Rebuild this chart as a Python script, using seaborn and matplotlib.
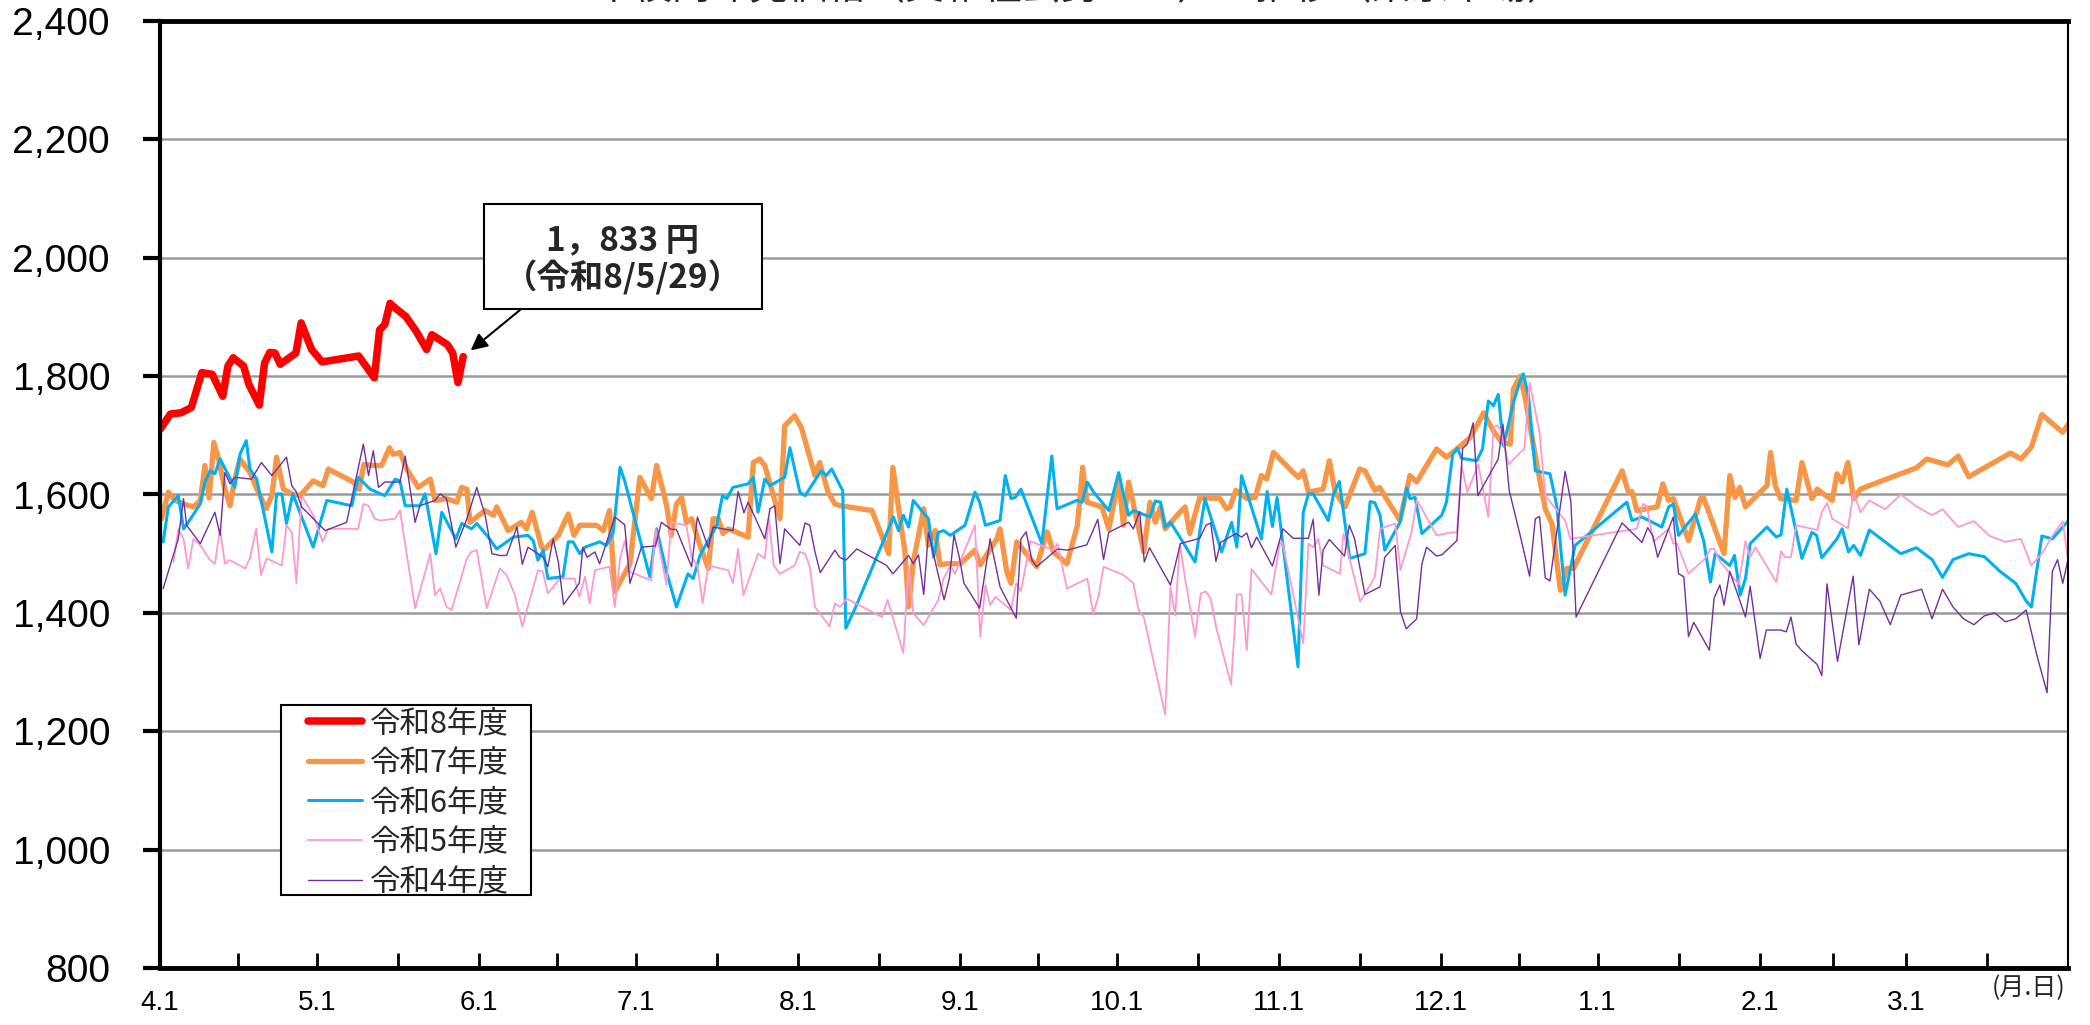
import matplotlib
matplotlib.use("Agg")
import matplotlib.pyplot as plt
from matplotlib.patches import Rectangle
from matplotlib.ticker import FuncFormatter
import pandas as pd
import seaborn as sns

# (day of fiscal year from 4/1, price in yen)
r8 = [(0, 1710), (2, 1736), (4, 1738), (6, 1747), (8, 1806), (10, 1803), (12, 1766), (13, 1817),
      (14, 1831), (16, 1817), (17, 1786), (19, 1751), (20, 1822), (21, 1840), (22, 1839), (23, 1820),
      (26, 1839), (27, 1890), (29, 1845), (31, 1824), (38, 1834), (41, 1797), (42, 1878), (43, 1887),
      (44, 1923), (45, 1915), (47, 1901), (49, 1876), (51, 1845), (52, 1870), (55, 1853), (56, 1839),
      (57, 1789), (58, 1833)]

r7 = [(0.3, 1559), (1.6, 1604), (2.9, 1590), (4.5, 1584), (6.4, 1579), (7.7, 1590), (8.6, 1649),
      (9.4, 1594), (10.3, 1688), (11.2, 1660), (12.4, 1609), (13.4, 1581), (14.3, 1626), (15.3, 1660),
      (17.2, 1637), (18.8, 1604), (20.3, 1576), (21.4, 1598), (22.3, 1663), (23.6, 1609), (25.2, 1601),
      (26.8, 1598), (29.3, 1623), (31.2, 1615), (32.2, 1643), (37.0, 1621), (38.1, 1609), (39.0, 1651),
      (40.8, 1649), (42.4, 1649), (43.9, 1679), (44.6, 1668), (45.9, 1671), (47.2, 1643), (49.4, 1612),
      (51.7, 1626), (52.6, 1590), (54.8, 1593), (56.8, 1587), (57.7, 1612), (58.7, 1609), (59.3, 1553),
      (62.2, 1573), (63.8, 1565), (64.4, 1579), (66.6, 1539), (69.1, 1553), (70.1, 1542), (71.2, 1570),
      (73.0, 1511), (73.6, 1508), (76.2, 1531), (78.1, 1567), (79.2, 1531), (80.3, 1548), (83.5, 1548),
      (84.8, 1539), (86.0, 1573), (87.0, 1436), (89.9, 1483), (91.8, 1629), (94.0, 1593), (95.0, 1649),
      (96.9, 1582), (97.8, 1531), (98.8, 1584), (99.8, 1595), (100.7, 1553), (101.7, 1559), (103.3, 1514),
      (104.9, 1475), (105.8, 1559), (106.8, 1559), (107.7, 1534), (108.7, 1542), (112.5, 1528),
      (113.5, 1654), (114.7, 1660), (115.7, 1649), (118.6, 1559), (119.5, 1716), (121.4, 1733),
      (122.7, 1713), (125.3, 1632), (126.2, 1654), (127.8, 1604), (129.1, 1584), (130.1, 1581),
      (136.2, 1573), (139.4, 1500), (140.2, 1646), (141.3, 1576), (142.5, 1503), (143.2, 1410),
      (144.1, 1486), (146.1, 1576), (147.0, 1514), (148.3, 1539), (149.2, 1481), (150.5, 1483),
      (153.1, 1483), (155.9, 1506), (156.9, 1481), (158.5, 1503), (160.1, 1525), (160.7, 1542),
      (162.0, 1469), (162.8, 1450), (163.9, 1520), (167.7, 1478), (169.7, 1537), (170.9, 1503),
      (173.5, 1483), (174.8, 1525), (175.5, 1548), (176.5, 1646), (177.3, 1587), (180.2, 1579),
      (181.5, 1542), (183.4, 1626), (184.3, 1548), (185.3, 1621), (186.2, 1584), (188.2, 1503),
      (189.4, 1587), (190.4, 1553), (191.4, 1579), (192.3, 1542), (195.1, 1570), (196.1, 1579),
      (197.0, 1534), (198.9, 1595), (202.8, 1593), (204.0, 1576), (204.7, 1579), (205.8, 1607),
      (207.9, 1593), (209.5, 1595), (210.7, 1632), (211.7, 1626), (213.0, 1671), (216.8, 1637),
      (217.8, 1629), (218.7, 1640), (219.7, 1604), (222.5, 1609), (223.7, 1657), (224.8, 1604),
      (226.7, 1579), (229.5, 1643), (230.5, 1640), (232.4, 1607), (233.3, 1612), (237.2, 1556),
      (239.1, 1632), (240.4, 1621), (244.2, 1677), (246.1, 1663), (247.7, 1674), (250.6, 1696),
      (251.9, 1716), (253.2, 1738), (255.1, 1707), (256.7, 1688), (258.3, 1685), (258.9, 1778),
      (260.2, 1800), (261.2, 1761), (263.1, 1665), (265.0, 1576), (266.3, 1550), (267.9, 1438),
      (269.1, 1475), (270.4, 1475), (279.7, 1640), (280.9, 1604), (281.6, 1605), (282.5, 1573),
      (286.4, 1579), (287.5, 1618), (288.6, 1590), (289.5, 1593), (292.4, 1522), (294.7, 1593),
      (295.3, 1594), (299.2, 1500), (300.3, 1632), (301.3, 1595), (302.2, 1612), (303.3, 1579),
      (307.4, 1615), (308.1, 1671), (309.0, 1615), (310.0, 1593), (313.0, 1590), (314.1, 1654),
      (316.0, 1593), (317.0, 1609), (319.9, 1590), (320.8, 1635), (321.8, 1621), (322.9, 1654),
      (324.0, 1593), (325.3, 1609), (327, 1615), (330, 1625), (333, 1635), (336, 1645), (338, 1660),
      (340, 1655), (342, 1650), (344, 1665), (346, 1630), (348, 1640), (351, 1655), (354, 1670),
      (356, 1660), (358, 1680), (360, 1735), (362, 1720), (364, 1705), (365, 1718)]

r6 = [(0.6, 1520), (1.6, 1579), (3.5, 1598), (4.5, 1542), (5.4, 1553), (7.7, 1584), (8.6, 1621),
      (9.6, 1640), (10.5, 1635), (11.5, 1660), (14.3, 1612), (15.3, 1668), (16.5, 1691), (17.2, 1643),
      (18.5, 1626), (21.4, 1503), (22.3, 1601), (23.3, 1601), (24.2, 1551), (25.4, 1601), (29.3, 1511),
      (31.9, 1590), (36.7, 1581), (37.9, 1629), (40.2, 1609), (43.0, 1598), (45.0, 1626), (45.9, 1623),
      (46.9, 1581), (49.7, 1581), (50.7, 1601), (52.8, 1500), (53.9, 1570), (56.6, 1525), (57.7, 1551),
      (59.6, 1542), (60.6, 1551), (62.8, 1528), (64.4, 1508), (67.6, 1528), (70.4, 1531), (71.4, 1522),
      (72.3, 1489), (73.3, 1506), (74.2, 1458), (77.1, 1461), (78.1, 1520), (79.0, 1520), (80.3, 1500),
      (81.3, 1511), (84.1, 1520), (85.4, 1514), (86.7, 1536), (88.0, 1646), (88.9, 1623), (93.7, 1461),
      (95.0, 1542), (96.9, 1469), (98.8, 1410), (101.0, 1466), (102.0, 1458), (103.3, 1497),
      (106.5, 1548), (107.6, 1598), (108.4, 1593), (109.6, 1612), (112.5, 1618), (113.5, 1629),
      (114.4, 1570), (115.7, 1626), (116.7, 1615), (119.5, 1629), (120.5, 1679), (122.4, 1604),
      (123.4, 1598), (126.5, 1640), (127.4, 1632), (128.5, 1643), (130.1, 1615), (130.6, 1607),
      (131.2, 1374), (133.0, 1408), (140.3, 1562), (141.3, 1539), (142.2, 1565), (143.2, 1545),
      (144.1, 1590), (147.0, 1559), (148.0, 1494), (148.9, 1536), (149.9, 1539), (151.2, 1531),
      (154.0, 1548), (155.9, 1604), (156.8, 1587), (157.9, 1548), (160.7, 1556), (161.7, 1632),
      (162.8, 1593), (163.6, 1595), (164.7, 1609), (168.7, 1517), (170.6, 1665), (171.6, 1576),
      (175.4, 1590), (176.4, 1587), (177.4, 1621), (178.6, 1604), (181.5, 1573), (183.4, 1637),
      (184.3, 1601), (185.3, 1565), (186.2, 1573), (189.4, 1562), (190.4, 1589), (191.4, 1587),
      (192.3, 1545), (193.3, 1553), (195.1, 1528), (198.0, 1486), (199.9, 1593), (203.1, 1503),
      (205.0, 1553), (206.0, 1511), (206.9, 1632), (210.7, 1525), (211.8, 1605), (212.8, 1546),
      (213.7, 1595), (217.7, 1309), (218.7, 1570), (219.7, 1601), (220.6, 1601), (223.5, 1556),
      (224.5, 1601), (225.6, 1622), (227.6, 1492), (230.5, 1500), (231.5, 1588), (232.4, 1586),
      (233.4, 1565), (234.3, 1506), (237.2, 1553), (238.5, 1611), (239.1, 1593), (240.1, 1595),
      (241.4, 1534), (245.2, 1565), (246.1, 1587), (247.3, 1668), (248.2, 1678), (249.0, 1661),
      (251.9, 1657), (253.0, 1677), (254.1, 1758), (255.1, 1750), (256.0, 1769), (257.0, 1682),
      (258.9, 1755), (260.2, 1792), (260.8, 1804), (261.8, 1766), (263.1, 1640), (265.9, 1635),
      (267.2, 1581), (268.8, 1430), (270.7, 1514), (280.6, 1587), (281.6, 1556), (283.5, 1562),
      (287.3, 1545), (288.6, 1579), (289.5, 1584), (290.5, 1531), (293.7, 1567), (295.3, 1522),
      (296.6, 1452), (297.5, 1500), (300.3, 1480), (301.2, 1497), (302.3, 1430), (303.3, 1458),
      (304.2, 1517), (307.4, 1545), (309.2, 1528), (310.1, 1532), (311.2, 1609), (312.8, 1545),
      (314.1, 1492), (316.0, 1536), (316.9, 1531), (317.9, 1493), (320.8, 1525), (321.8, 1542),
      (323.0, 1503), (324.0, 1514), (325.3, 1497), (327, 1540), (330, 1520), (333, 1500), (336, 1510),
      (339, 1490), (341, 1460), (343, 1490), (346, 1500), (349, 1495), (352, 1470), (355, 1450),
      (357, 1420), (358, 1410), (360, 1530), (362, 1525), (365, 1555)]

r5 = [(2.6, 1486), (3.5, 1542), (4.5, 1525), (5.4, 1475), (6.4, 1525), (7.7, 1514), (9.6, 1489),
      (10.5, 1483), (11.5, 1542), (12.4, 1483), (13.4, 1489), (16.3, 1475), (17.2, 1492), (18.4, 1542),
      (19.3, 1464), (20.4, 1492), (23.3, 1480), (24.2, 1548), (25.2, 1536), (26.1, 1450), (27.1, 1598),
      (29.3, 1565), (31.1, 1520), (32.2, 1542), (37.9, 1542), (38.9, 1584), (39.9, 1581), (41.1, 1559),
      (42.1, 1556), (45.0, 1559), (45.9, 1573), (48.8, 1408), (51.7, 1500), (52.6, 1430), (53.6, 1441),
      (54.8, 1410), (55.8, 1405), (58.7, 1492), (59.6, 1503), (60.6, 1506), (62.5, 1408), (65.0, 1475),
      (66.3, 1464), (67.9, 1430), (69.3, 1377), (72.3, 1472), (73.2, 1470), (74.2, 1433), (76.5, 1458),
      (79.3, 1458), (80.2, 1427), (81.3, 1461), (82.2, 1416), (83.2, 1472), (86.0, 1478), (87.0, 1410),
      (88.0, 1492), (88.9, 1522), (89.9, 1469), (94.0, 1455), (94.8, 1542), (96.9, 1447), (97.8, 1553),
      (100.7, 1548), (101.7, 1494), (102.8, 1480), (103.8, 1416), (104.9, 1480), (108.7, 1472),
      (109.6, 1450), (110.6, 1508), (111.6, 1430), (114.4, 1500), (115.7, 1492), (116.5, 1559),
      (117.4, 1480), (118.6, 1466), (121.4, 1480), (122.4, 1503), (123.4, 1500), (124.3, 1478),
      (125.3, 1410), (128.1, 1377), (129.1, 1416), (130.1, 1410), (131.4, 1424), (138.1, 1393),
      (139.2, 1422), (142.2, 1332), (143.2, 1480), (144.1, 1399), (146.1, 1379), (148.9, 1422),
      (149.9, 1458), (151.2, 1480), (152.1, 1466), (155.9, 1548), (156.9, 1360), (157.9, 1447),
      (158.8, 1413), (159.8, 1427), (162.8, 1405), (163.8, 1450), (164.7, 1437), (166.5, 1521),
      (170.9, 1506), (171.7, 1517), (173.5, 1441), (177.4, 1458), (178.5, 1399), (179.5, 1427),
      (180.5, 1478), (184.3, 1464), (186.2, 1450), (187.2, 1405), (188.2, 1393), (192.3, 1228),
      (193.3, 1444), (194.2, 1396), (195.1, 1517), (196.1, 1458), (198.0, 1360), (199.1, 1433),
      (200.1, 1436), (201.0, 1424), (202.0, 1377), (204.9, 1279), (206.0, 1431), (206.9, 1431),
      (207.9, 1337), (208.8, 1474), (212.6, 1431), (214.2, 1517), (214.7, 1520), (218.7, 1349),
      (219.7, 1517), (220.6, 1511), (221.6, 1525), (222.5, 1480), (225.7, 1466), (226.4, 1534),
      (229.6, 1419), (232.4, 1461), (233.4, 1542), (236.3, 1551), (237.3, 1472), (239.4, 1536),
      (240.4, 1590), (241.2, 1579), (244.2, 1531), (247.1, 1536), (248.1, 1536), (249.0, 1649),
      (250.1, 1604), (252.2, 1651), (254.1, 1562), (255.1, 1713), (255.7, 1717), (256.4, 1710),
      (258.0, 1651), (260.2, 1671), (261.0, 1677), (262.0, 1789), (263.9, 1705), (265.0, 1598),
      (268.8, 1556), (269.8, 1525), (282.5, 1542), (283.7, 1584), (284.4, 1581), (285.7, 1520),
      (288.6, 1542), (289.5, 1517), (290.2, 1517), (292.4, 1466), (295.6, 1492), (296.6, 1508),
      (297.3, 1508), (298.5, 1486), (300.1, 1469), (302.0, 1448), (303.3, 1521), (304.2, 1494),
      (305.2, 1511), (309.2, 1452), (310.1, 1504), (310.9, 1494), (312.0, 1494), (313.0, 1548),
      (317.0, 1540), (317.9, 1570), (318.9, 1586), (319.9, 1559), (322.9, 1543), (324.0, 1604),
      (325.3, 1570), (327, 1590), (330, 1575), (333, 1600), (336, 1580), (339, 1565), (341, 1575),
      (344, 1545), (347, 1555), (350, 1530), (353, 1520), (356, 1525), (358, 1480), (360, 1500),
      (362, 1530), (364, 1555), (365, 1490)]

r4 = [(0.6, 1441), (3.5, 1525), (4.5, 1593), (5.1, 1548), (7.7, 1517), (10.5, 1570), (11.5, 1531),
      (12.4, 1637), (13.4, 1618), (14.3, 1629), (17.5, 1626), (19.4, 1654), (21.4, 1632), (24.2, 1663),
      (25.2, 1615), (26.1, 1604), (27.1, 1579), (31.6, 1539), (35.7, 1553), (38.9, 1685), (39.9, 1632),
      (40.8, 1674), (41.8, 1612), (43.0, 1621), (45.9, 1621), (46.9, 1665), (48.8, 1553), (49.7, 1581),
      (52.6, 1590), (53.6, 1601), (54.8, 1593), (56.6, 1511), (58.7, 1559), (60.6, 1612), (62.2, 1565),
      (63.5, 1500), (65.0, 1497), (66.3, 1497), (68.3, 1545), (69.3, 1482), (70.4, 1511), (73.3, 1494),
      (74.2, 1478), (75.2, 1525), (76.2, 1486), (77.2, 1414), (80.2, 1450), (80.9, 1511), (81.7, 1494),
      (83.2, 1503), (84.1, 1483), (87.0, 1562), (88.9, 1549), (89.9, 1450), (92.1, 1511), (94.8, 1513),
      (95.9, 1553), (97.8, 1541), (98.8, 1541), (101.7, 1478), (102.8, 1562), (104.9, 1510),
      (105.8, 1545), (109.6, 1539), (110.6, 1605), (111.7, 1569), (112.5, 1587), (115.7, 1525),
      (116.7, 1576), (117.6, 1581), (118.6, 1483), (119.5, 1542), (122.4, 1514), (123.4, 1552),
      (124.3, 1548), (125.3, 1503), (126.3, 1468), (129.1, 1506), (130.0, 1494), (131.2, 1489),
      (133.3, 1508), (139.0, 1480), (140.2, 1466), (143.2, 1497), (144.1, 1483), (145.1, 1498),
      (146.1, 1431), (147.0, 1536), (150.0, 1422), (151.0, 1458), (151.9, 1532), (152.9, 1494),
      (153.8, 1450), (156.8, 1408), (158.8, 1525), (160.7, 1444), (163.8, 1391), (164.7, 1525),
      (165.7, 1537), (166.8, 1489), (167.7, 1478), (171.7, 1508), (173.6, 1506), (177.3, 1515),
      (179.4, 1558), (180.5, 1490), (181.5, 1536), (185.3, 1553), (186.2, 1542), (187.4, 1571),
      (188.3, 1486), (189.3, 1510), (193.3, 1447), (195.2, 1517), (198.9, 1526), (200.1, 1548),
      (201.0, 1552), (202.0, 1487), (202.9, 1519), (205.8, 1534), (206.9, 1528), (207.9, 1535),
      (208.8, 1510), (209.8, 1528), (212.8, 1479), (214.8, 1542), (216.8, 1526), (219.7, 1526),
      (220.6, 1558), (221.7, 1430), (222.5, 1506), (223.7, 1524), (226.6, 1496), (227.5, 1548),
      (228.5, 1526), (230.5, 1431), (233.4, 1444), (234.3, 1494), (236.3, 1514), (237.3, 1402),
      (238.4, 1373), (240.4, 1390), (241.4, 1483), (242.3, 1511), (244.2, 1496), (245.2, 1498),
      (248.1, 1522), (249.2, 1678), (250.1, 1685), (251.2, 1721), (252.1, 1598), (256.0, 1660),
      (256.9, 1719), (258.1, 1607), (260.2, 1531), (262.0, 1462), (263.1, 1559), (263.9, 1563),
      (265.0, 1459), (265.9, 1454), (268.8, 1639), (269.9, 1588), (270.9, 1393), (279.7, 1552),
      (283.5, 1519), (284.6, 1544), (285.6, 1530), (286.5, 1494), (289.5, 1562), (290.5, 1466),
      (291.5, 1461), (292.4, 1360), (293.4, 1384), (296.4, 1337), (297.3, 1425), (298.4, 1447),
      (299.2, 1413), (300.3, 1470), (303.3, 1393), (304.2, 1445), (306.1, 1323), (307.3, 1371),
      (310.0, 1371), (311.1, 1368), (312.0, 1393), (313.0, 1347), (314.1, 1336), (317.0, 1313),
      (317.9, 1294), (318.9, 1449), (320.9, 1318), (323.9, 1462), (325.0, 1346), (327, 1440),
      (329, 1420), (331, 1380), (333, 1430), (335, 1435), (337, 1440), (339, 1390), (341, 1440),
      (343, 1410), (345, 1390), (347, 1380), (349, 1395), (351, 1400), (353, 1385), (355, 1390),
      (357, 1405), (359, 1330), (361, 1265), (362, 1470), (363, 1490), (364, 1450), (365, 1490)]

month_labels = ["4.1", "5.1", "6.1", "7.1", "8.1", "9.1", "10.1", "11.1", "12.1", "1.1", "2.1", "3.1"]
month_days = [0, 30, 61, 91, 122, 153, 183, 214, 245, 275, 306, 334]
year_days = 365

title = "牛枝肉卸売価格（交雑種去勢Ｂ３）の推移（東京市場）"

# drawing order: later on top
series = [
    ("令和7年度", r7, "#f79646", 3.8),
    ("令和6年度", r6, "#00b0f0", 2.2),
    ("令和5年度", r5, "#ff99cc", 1.3),
    ("令和4年度", r4, "#7030a0", 1.0),
    ("令和8年度", r8, "#ff0000", 5.4),
]
legend_order = ["令和8年度", "令和7年度", "令和6年度", "令和5年度", "令和4年度"]

sns.set_style("white")
plt.rcParams["font.family"] = ["Noto Sans CJK JP", "DejaVu Sans"]

W, H = 2090, 1025
fig = plt.figure(figsize=(W / 100, H / 100), dpi=100)
ax = fig.add_axes([160 / W, 57 / H, 1908 / W, 947 / H])

handles = {}
for name, pts, color, lw in series:
    df = pd.DataFrame(pts, columns=["day", "price"])
    sns.lineplot(data=df, x="day", y="price", ax=ax, color=color, linewidth=lw,
                 sort=False, estimator=None, legend=False)
    line = ax.get_lines()[-1]
    line.set_solid_joinstyle("round")
    handles[name] = line

ax.set_xlim(0, year_days)
ax.set_ylim(800, 2400)
ax.set_xlabel("")
ax.set_ylabel("")

ax.set_yticks(range(800, 2401, 200))
ax.yaxis.set_major_formatter(FuncFormatter(lambda v, p: f"{v:,.0f}"))
ax.yaxis.grid(True, color="#9a9a9a", linewidth=1.8)
ax.xaxis.grid(False)
ax.set_axisbelow(True)

ax.set_xticks(month_days)
ax.set_xticklabels(month_labels)
ends = month_days[1:] + [year_days]
ax.set_xticks([(a + b) / 2 for a, b in zip(month_days, ends)], minor=True)
ax.tick_params(axis="x", which="both", direction="in", length=11, width=2,
               pad=16, labelsize=20, bottom=True, colors="black")
ax.tick_params(axis="y", direction="out", length=12, width=3, pad=24,
               labelsize=28, left=True, colors="black")
for lbl in ax.get_xticklabels() + ax.get_yticklabels():
    lbl.set_fontfamily("Liberation Sans")

for side, lw in [("left", 3), ("bottom", 3.5), ("top", 3.5), ("right", 1.5)]:
    ax.spines[side].set_color("black")
    ax.spines[side].set_linewidth(lw)
    ax.spines[side].set_visible(True)

# legend: frame drawn separately so its padding can differ left/right and top/bottom
ax.add_patch(Rectangle((281 / W, 1 - 895 / H), 250 / W, 190 / H, transform=fig.transFigure,
                       facecolor="white", edgecolor="black", linewidth=1.5, zorder=4.9))
ax.legend([handles[n] for n in legend_order], legend_order,
          loc="upper left", bbox_to_anchor=(308 / W, 1 - 708 / H),
          bbox_transform=fig.transFigure, borderaxespad=0, borderpad=0, fontsize=22,
          frameon=False, handlelength=1.77, handletextpad=0.26, labelspacing=0.28)

# callout for the latest price
last_day, last_price = r8[-1]
box = Rectangle((484 / W, 1 - 309 / H), 278 / W, 105 / H, transform=fig.transFigure,
                facecolor="white", edgecolor="black", linewidth=1.5, zorder=5)
fig.add_artist(box)
fig.text(623 / W, 1 - 241 / H, f"{last_price:,}".replace(",", "，") + " 円",
         ha="center", va="center", fontsize=24, fontweight="bold", zorder=6)
fig.text(623 / W, 1 - 278 / H, "（令和8/5/29）", ha="center", va="center",
         fontsize=24, fontweight="bold", zorder=6)
ax.annotate("", xy=(last_day, last_price), xytext=(520 / W, 1 - 310 / H),
            textcoords="figure fraction",
            arrowprops=dict(arrowstyle="-|>", color="black", lw=1.5,
                            mutation_scale=25, shrinkA=0, shrinkB=7))

fig.text(2066 / W, 1 - 988 / H, "(月.日)", ha="right", va="center", fontsize=18)
fig.text(1080 / W, 1 + 12 / H, title, ha="center", va="center", fontsize=28)

fig.savefig("out.png", dpi=100)
